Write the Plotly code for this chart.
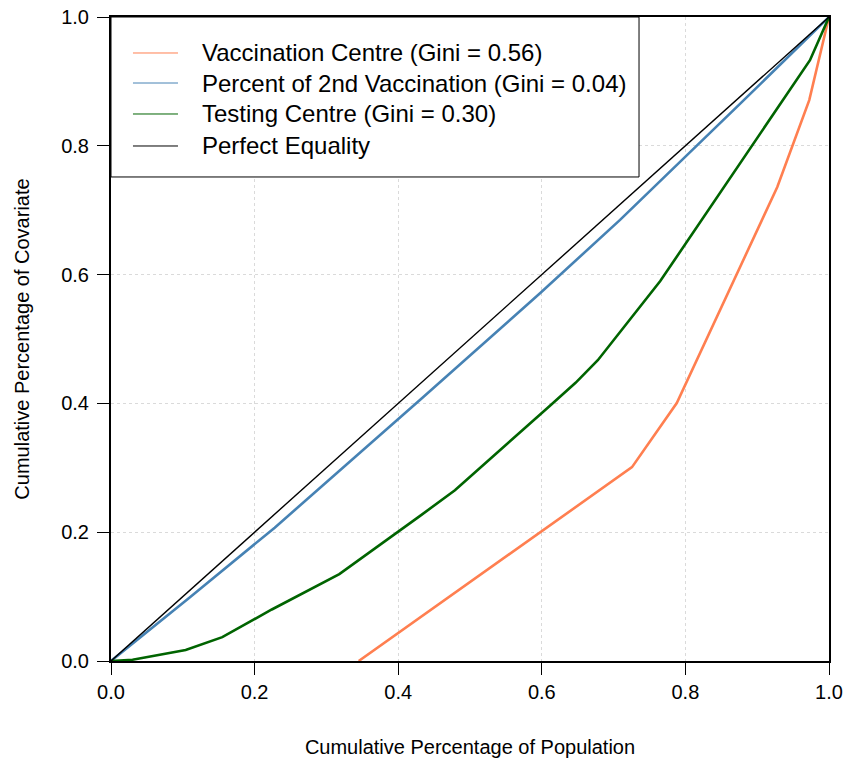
import plotly.graph_objects as go

# Lorenz curve data (cumulative population share, cumulative covariate share)
vacc_x = [0.345, 0.7256, 0.788, 0.928, 0.9725, 1.0]
vacc_y = [0.0, 0.301, 0.4006, 0.736, 0.871, 1.0]

second_x = [0.0, 0.11, 0.228, 0.433, 0.5975, 0.709, 0.876, 1.0]
second_y = [0.0, 0.099, 0.207, 0.408, 0.571, 0.685, 0.865, 1.0]

test_x = [0.0, 0.03, 0.104, 0.155, 0.224, 0.318, 0.43, 0.479, 0.611, 0.647, 0.678, 0.765, 0.9735, 1.0]
test_y = [0.0, 0.002, 0.017, 0.037, 0.080, 0.135, 0.225, 0.265, 0.396, 0.432, 0.467, 0.590, 0.933, 1.0]

equal_x = [0.0, 1.0]
equal_y = [0.0, 1.0]

names = ["Vaccination Centre (Gini = 0.56)",
         "Percent of 2nd Vaccination (Gini = 0.04)",
         "Testing Centre (Gini = 0.30)",
         "Perfect Equality"]
colors = ["#FF7F50", "#4682B4", "#006400", "#000000"]
tick_vals = [0.0, 0.2, 0.4, 0.6, 0.8, 1.0]
tick_text = ["0.0", "0.2", "0.4", "0.6", "0.8", "1.0"]

FONT = "Liberation Sans, Arial, Helvetica, sans-serif"

fig = go.Figure()
series = [(vacc_x, vacc_y, 2.6), (second_x, second_y, 2.6), (test_x, test_y, 2.6), (equal_x, equal_y, 1.4)]
for (xs, ys, w), c, n in zip(series, colors, names):
    fig.add_trace(go.Scatter(x=xs, y=ys, mode="lines", name=n, line=dict(color=c, width=w),
                             showlegend=False, hoverinfo="skip"))

axis_common = dict(
    range=[0, 1], tickvals=tick_vals, ticktext=tick_text,
    showline=True, linecolor="black", linewidth=2, mirror=True,
    ticks="outside", ticklen=12, tickwidth=1, tickcolor="black",
    showgrid=True, gridcolor="#DADADA", griddash="dot", gridwidth=1,
    zeroline=False, automargin=False,
    tickfont=dict(family=FONT, size=20, color="black"),
)

# Legend box (paper coordinates), drawn manually to match row spacing
leg_x0, leg_x1, leg_y0, leg_y1 = 0.0, 0.7354, 0.7516, 1.0
sw_x0, sw_x1, txt_x = 0.0306, 0.0933, 0.1240
row_y = [0.9441, 0.8975, 0.8494, 0.7997]

shapes = [dict(type="rect", xref="paper", yref="paper", x0=leg_x0, x1=leg_x1, y0=leg_y0, y1=leg_y1,
               line=dict(color="black", width=1), fillcolor="white", layer="above")]
annotations = []
for n, c, ry in zip(names, colors, row_y):
    shapes.append(dict(type="line", xref="paper", yref="paper", x0=sw_x0, x1=sw_x1, y0=ry, y1=ry,
                       line=dict(color=c, width=1), layer="above"))
    annotations.append(dict(xref="paper", yref="paper", x=txt_x, y=ry, text=n, showarrow=False,
                            xanchor="left", yanchor="middle",
                            font=dict(family=FONT, size=24, color="black")))

fig.update_layout(
    width=846, height=761,
    margin=dict(l=111, r=17, t=17, b=100),
    paper_bgcolor="white", plot_bgcolor="white",
    font=dict(family=FONT, color="black"),
    showlegend=False,
    xaxis=dict(**axis_common,
               title=dict(text="Cumulative Percentage of Population",
                          font=dict(family=FONT, size=20), standoff=38)),
    yaxis=dict(**axis_common,
               title=dict(text="Cumulative Percentage of Covariate",
                          font=dict(family=FONT, size=20), standoff=26)),
    shapes=shapes, annotations=annotations,
)
fig.update_yaxes(ticklabelstandoff=4)

fig.write_html("out.html")
